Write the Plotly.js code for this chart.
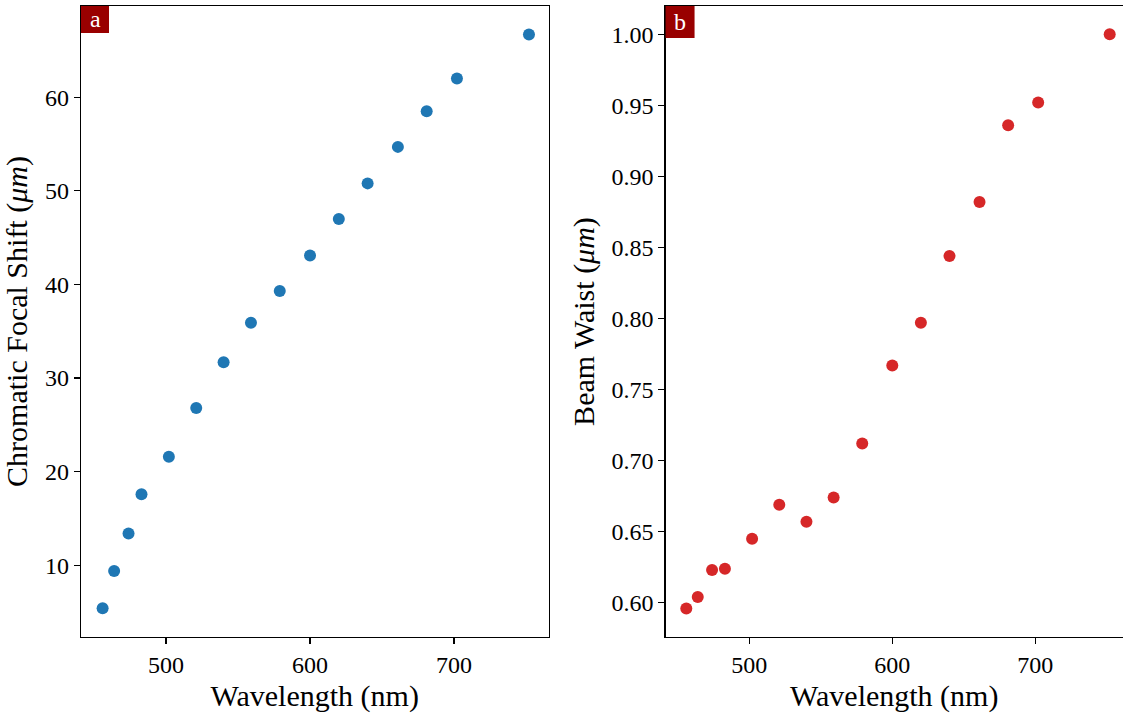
<!DOCTYPE html>
<html>
<head>
<meta charset="utf-8">
<script src="https://cdn.plot.ly/plotly-3.0.1.min.js"></script>
<style>html,body{margin:0;padding:0;background:#fff;}#chart{width:1123px;height:716px;}</style>
</head>
<body>
<div id="chart"></div>
<script>
// Data
const wavelength = [456, 464, 474, 483, 502, 521, 540, 559, 579, 600, 620, 640, 661, 681, 702, 752];
const focalShift = [5.4, 9.4, 13.4, 17.6, 21.6, 26.8, 31.7, 35.9, 39.3, 43.1, 47.0, 50.8, 54.7, 58.5, 62.0, 66.7];
const beamWaist = [0.596, 0.604, 0.623, 0.624, 0.645, 0.669, 0.657, 0.674, 0.712, 0.767, 0.797, 0.844, 0.882, 0.936, 0.952, 1.000];
const panelLabels = ["a", "b"];
const xTitle = "Wavelength (nm)";
const yTitleA = "Chromatic Focal Shift (<i>μm</i>)";
const yTitleB = "Beam Waist (<i>μm</i>)";

const FONT = "Liberation Serif, Times New Roman, serif";
const traces = [
  {x: wavelength, y: focalShift, type: "scatter", mode: "markers",
   marker: {color: "#1f77b4", size: 12}, xaxis: "x", yaxis: "y", hoverinfo: "none"},
  {x: wavelength, y: beamWaist, type: "scatter", mode: "markers",
   marker: {color: "#d62728", size: 12}, xaxis: "x2", yaxis: "y2", hoverinfo: "none"}
];

function axisBase() {
  return {
    showgrid: false, zeroline: false, showline: true, linecolor: "#000", linewidth: 1.3,
    ticks: "outside", ticklen: 6, tickwidth: 1.2, tickcolor: "#000",
    tickfont: {family: FONT, size: 24, color: "#000"}
  };
}

const layout = {
  width: 1123, height: 716,
  margin: {l: 81, r: 0, t: 6, b: 79},
  paper_bgcolor: "#fff", plot_bgcolor: "#fff",
  showlegend: false,
  font: {family: FONT, color: "#000"},
  xaxis: Object.assign(axisBase(), {domain: [0, 0.4487], range: [441.0, 765.6], tickvals: [500, 600, 700], mirror: true, anchor: "y",
    title: {text: xTitle, font: {family: FONT, size: 30, color: "#000"}, standoff: 8}}),
  yaxis: Object.assign(axisBase(), {domain: [0, 1], range: [2.34, 69.75], tickvals: [10, 20, 30, 40, 50, 60], mirror: true, anchor: "x",
    title: {text: yTitleA, font: {family: FONT, size: 30, color: "#000"}, standoff: 8}}),
  xaxis2: Object.assign(axisBase(), {domain: [0.561, 1], range: [441.5, 761.3], tickvals: [500, 600, 700], mirror: true, anchor: "y2",
    title: {text: xTitle, font: {family: FONT, size: 30, color: "#000"}, standoff: 8}}),
  yaxis2: Object.assign(axisBase(), {domain: [0, 1], range: [0.5759, 1.0199], tickvals: [0.60, 0.65, 0.70, 0.75, 0.80, 0.85, 0.90, 0.95, 1.00], tickformat: ".2f", mirror: false, anchor: "x2",
    title: {text: yTitleB, font: {family: FONT, size: 30, color: "#000"}, standoff: 8}}),
  shapes: [
    {type: "rect", xref: "x domain", yref: "y domain", x0: 0, x1: 28/467.5, y0: 1 - 27/631, y1: 1, fillcolor: "#990000", line: {width: 0}},
    {type: "rect", xref: "x2 domain", yref: "y2 domain", x0: 0, x1: 29/457.5, y0: 1 - 32/631, y1: 1, fillcolor: "#990000", line: {width: 0}}
  ],
  annotations: [
    {xref: "x domain", yref: "y domain", x: 14/467.5, y: 1 - 13.5/631, text: panelLabels[0], showarrow: false, xanchor: "center", yanchor: "middle",
     font: {family: FONT, size: 24, color: "#fff"}},
    {xref: "x2 domain", yref: "y2 domain", x: 14.5/457.5, y: 1 - 16/631, text: panelLabels[1], showarrow: false, xanchor: "center", yanchor: "middle",
     font: {family: FONT, size: 24, color: "#fff"}}
  ]
};

Plotly.newPlot("chart", traces, layout, {displayModeBar: false, staticPlot: true});
</script>
</body>
</html>
